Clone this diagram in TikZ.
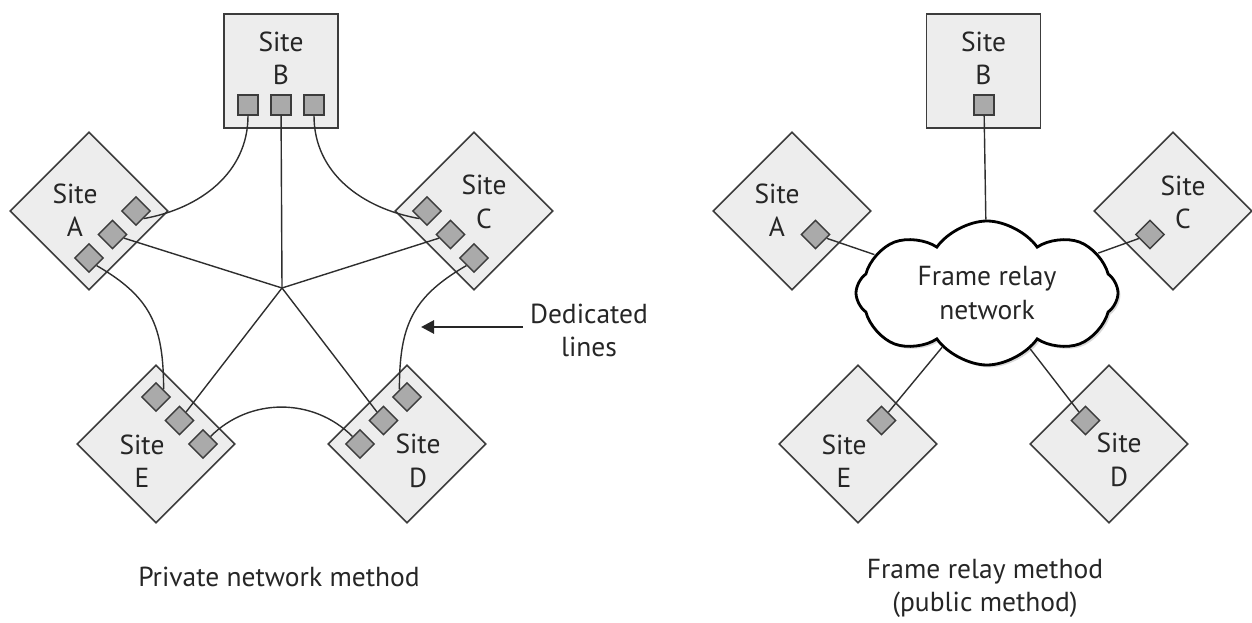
\documentclass[tikz,border=0pt]{standalone}
\usepackage{fontspec}
\setmainfont{PT Sans}
\usetikzlibrary{shapes.geometric,shapes.symbols,arrows.meta,shadows}
\definecolor{sitefill}{HTML}{EDEDED}
\definecolor{portfill}{HTML}{AAAAAA}
\definecolor{edgec}{HTML}{3C3C3C}
\definecolor{wirec}{HTML}{2E2E2E}
\definecolor{txtc}{HTML}{262626}
\begin{document}
\begin{tikzpicture}[x=0.5pt,y=0.5pt,
  site/.style={draw=edgec,fill=sitefill,line width=0.8pt,inner sep=0pt},
  sitebox/.style={site,rectangle,minimum width=57pt,minimum height=57pt},
  sitedia/.style={site,diamond,minimum width=79pt,minimum height=79pt},
  portbase/.style={draw=edgec,fill=portfill,line width=0.7pt,inner sep=0pt},
  portsq/.style={portbase,rectangle,minimum width=10pt,minimum height=10pt},
  portdia/.style={portbase,diamond,minimum width=14.5pt,minimum height=14.5pt},
  lbl/.style={align=center,text=txtc,font=\fontsize{13.75}{16.75}\selectfont,inner sep=0pt},
  wire/.style={draw=wirec,line width=0.7pt},
  cloudnode/.style={cloud,cloud puffs=8,cloud puff arc=110,aspect=1.8,shape border rotate=12,draw=black,line width=1.4pt,fill=white,
    minimum width=131pt,minimum height=72pt,align=center,text=txtc,
    font=\fontsize{13.75}{16.75}\selectfont,inner sep=0pt,
    drop shadow={shadow xshift=1.2pt,shadow yshift=-1.2pt,opacity=0.3}},
  pointer/.style={draw=black!85,line width=1.4pt,-{Triangle[length=6.5pt,width=6.5pt]}}
]
\useasboundingbox (0,0) rectangle (1252,622);

% ---------- Private network method ----------
\node[sitebox] (lB) at (281,551) {};
\node[sitedia] (lA) at (89,411) {};
\node[sitedia] (lC) at (474,411) {};
\node[sitedia] (lE) at (156,178) {};
\node[sitedia] (lD) at (407,178) {};

\node[lbl] (tlB) at (281,563.5) {Site\\B};
\node[lbl] (tlA) at (75,412) {Site\\A};
\node[lbl] (tlC) at (484,420) {Site\\C};
\node[lbl] (tlE) at (142,161) {Site\\E};
\node[lbl] (tlD) at (418,161) {Site\\D};

\node[portsq] (b1) at (248,517) {};
\node[portsq] (b2) at (281,517) {};
\node[portsq] (b3) at (314,517) {};
\node[portdia] (a1) at (136,411) {};
\node[portdia] (a2) at (112.5,387.5) {};
\node[portdia] (a3) at (89,364) {};
\node[portdia] (c1) at (427,411) {};
\node[portdia] (c2) at (450.5,387.5) {};
\node[portdia] (c3) at (474,364) {};
\node[portdia] (e1) at (156,225) {};
\node[portdia] (e2) at (179.5,201.5) {};
\node[portdia] (e3) at (203,178) {};
\node[portdia] (d1) at (407,225) {};
\node[portdia] (d2) at (383.5,201.5) {};
\node[portdia] (d3) at (360,178) {};

\coordinate (hub) at (282,334);
\draw[wire] (b2) -- (hub);
\draw[wire] (a2) -- (hub);
\draw[wire] (c2) -- (hub);
\draw[wire] (e2) -- (hub);
\draw[wire] (d2) -- (hub);

\draw[wire] (b1) to[out=-90,in=10] (a1.south east);
\draw[wire] (b3) to[out=-90,in=170] (c1.south west);
\draw[wire] (a3.south east) to[out=-30,in=90,looseness=1.15] (e1.north east);
\draw[wire] (c3.south west) to[out=210,in=90,looseness=1.15] (d1.north west);
\draw[wire] (e3.north east) to[out=45,in=135] (d3.north west);

\node[lbl] (ded) at (589,291.5) {Dedicated\\lines};
\coordinate (arrtail) at (523,295);
\coordinate (arrtip) at (421,295);
\draw[pointer] (arrtail) -- (arrtip);

\node[lbl] (cap1) at (279,45) {Private network method};

% ---------- Frame relay method ----------
\node[sitebox] (rB) at (983.5,551) {};
\node[sitedia] (rA) at (792,411) {};
\node[sitedia] (rC) at (1173,411) {};
\node[sitedia] (rE) at (858,178) {};
\node[sitedia] (rD) at (1109,178) {};

\node[lbl] (trB) at (983.5,563.5) {Site\\B};
\node[lbl] (trA) at (777,412) {Site\\A};
\node[lbl] (trC) at (1183,419.5) {Site\\C};
\node[lbl] (trE) at (844,161) {Site\\E};
\node[lbl] (trD) at (1119,162) {Site\\D};

\node[portsq] (rpB) at (984,517) {};
\node[portdia] (rpA) at (815.5,387.5) {};
\node[portdia] (rpC) at (1150,387.5) {};
\node[portdia] (rpE) at (881.5,201.5) {};
\node[portdia] (rpD) at (1085.5,201.5) {};

\node[cloudnode] (cloud) at (987,329) {Frame relay\\network};

\draw[wire] (rpB) -- (cloud);
\draw[wire] (rpA) -- (cloud);
\draw[wire] (rpC) -- (cloud);
\draw[wire] (rpE) -- (cloud);
\draw[wire] (rpD) -- (cloud);

\node[lbl] (cap2) at (985,33.5) {Frame relay method\\(public method)};
\end{tikzpicture}
\end{document}
